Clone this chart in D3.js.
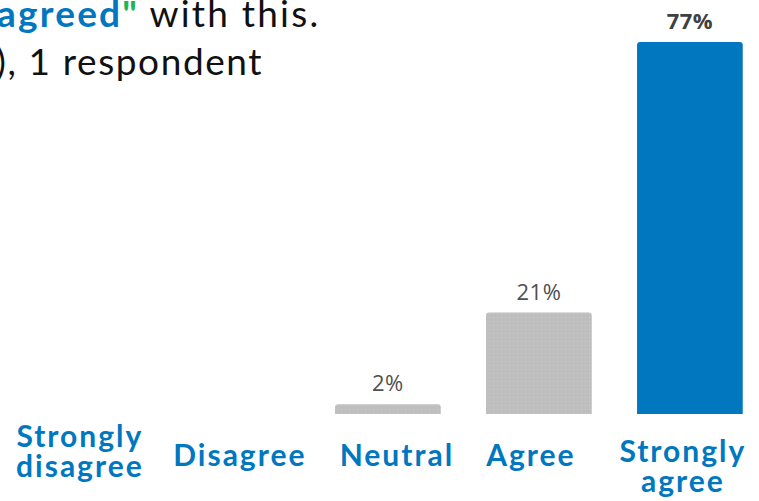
<!DOCTYPE html>
<html>
<head>
<meta charset="utf-8">
<script src="https://cdn.jsdelivr.net/npm/d3@7"></script>
<style>
  html, body { margin: 0; padding: 0; background: #ffffff; }
  svg { display: block; }
</style>
</head>
<body>
<script>
// Response categories and share of respondents (%)
const categories = ["Strongly disagree", "Disagree", "Neutral", "Agree", "Strongly agree"];
const shares = [0, 0, 2, 21, 77];
const valueLabels = ["", "", "2%", "21%", "77%"];
const labelLines = [["Strongly", "disagree"], ["Disagree"], ["Neutral"], ["Agree"], ["Strongly", "agree"]];

const W = 759, H = 501;
const BLUE = "#0077bf", GRAY = "#bebebe", GREEN = "#1fb45a";

const svg = d3.select("body").append("svg")
  .attr("width", W).attr("height", H);

// dotted texture for the grey bars
const defs = svg.append("defs");
const pat = defs.append("pattern")
  .attr("id", "dots").attr("patternUnits", "userSpaceOnUse")
  .attr("width", 4).attr("height", 4);
pat.append("rect").attr("width", 4).attr("height", 4).attr("fill", GRAY);
pat.append("rect").attr("x", 1).attr("y", 1).attr("width", 1).attr("height", 1).attr("fill", "#cdcdcd");

const x = d3.scaleBand()
  .domain(categories)
  .range([10.4, 765.4])
  .paddingInner(0.3)
  .paddingOuter(0.15);

const y = d3.scaleLinear()
  .domain([0, 77])
  .range([414, 42]);

// bars (zero values draw nothing)
svg.append("g").selectAll("path")
  .data(categories.map((c, i) => ({ c, v: shares[i], i })).filter(d => d.v > 0))
  .join("path")
  .attr("d", d => {
    const x0 = x(d.c), x1 = x0 + x.bandwidth(), y0 = y(d.v), yb = y(0), r = 3;
    return `M${x0},${yb} L${x0},${y0 + r} Q${x0},${y0} ${x0 + r},${y0} L${x1 - r},${y0} Q${x1},${y0} ${x1},${y0 + r} L${x1},${yb} Z`;
  })
  .attr("fill", d => d.i === categories.length - 1 ? BLUE : "url(#dots)");

// value labels above bars
svg.append("g").selectAll("text")
  .data(categories.map((c, i) => ({ c, v: shares[i], t: valueLabels[i], i })).filter(d => d.t))
  .join("text")
  .attr("x", d => x(d.c) + x.bandwidth() / 2)
  .attr("y", d => y(d.v) - 13)
  .attr("text-anchor", "middle")
  .attr("font-family", "'Open Sans', 'Noto Sans', sans-serif")
  .attr("font-size", 22)
  .attr("letter-spacing", 0.5)
  .attr("font-weight", d => d.i === categories.length - 1 ? 700 : 400)
  .attr("fill", d => d.i === categories.length - 1 ? "#404040" : "#505050")
  .text(d => d.t);

// category labels under the axis; each text box sits slightly off its bar centre
const labelNudge = [-6, 3, 9, -8, -7];
const catG = svg.append("g")
  .attr("font-family", "Lato, 'Open Sans', sans-serif")
  .attr("font-size", 30)
  .attr("font-weight", 700)
  .attr("letter-spacing", 2)
  .attr("fill", BLUE)
  .attr("text-anchor", "middle");

labelLines.forEach((lines, i) => {
  // first label is centred on the label row, the last one hangs from it
  const top = i === 0 ? 447 : (lines.length > 1 ? 462 : 466);
  const cx = x(categories[i]) + x.bandwidth() / 2 + labelNudge[i];
  const t = catG.append("text").attr("x", cx).attr("y", top);
  lines.forEach((ln, k) => {
    t.append("tspan")
      .attr("x", cx)
      .attr("dy", k === 0 ? 0 : 30)
      .text(ln);
  });
});

// heading text
const head = svg.append("g")
  .attr("font-family", "Lato, 'Open Sans', sans-serif")
  .attr("font-size", 37)
  .attr("letter-spacing", 1.6)
  .attr("fill", "#111111");

const l1 = head.append("text").attr("x", -3).attr("y", 27);
l1.append("tspan").attr("fill", BLUE).attr("font-weight", 700).attr("letter-spacing", 2.2).text("agreed");
l1.append("tspan").attr("fill", GREEN).attr("font-weight", 700).text("\"");
l1.append("tspan").attr("letter-spacing", 2.2).text(" with this.");

head.append("text").attr("x", -4).attr("y", 75).text("), 1 respondent");
</script>
</body>
</html>
